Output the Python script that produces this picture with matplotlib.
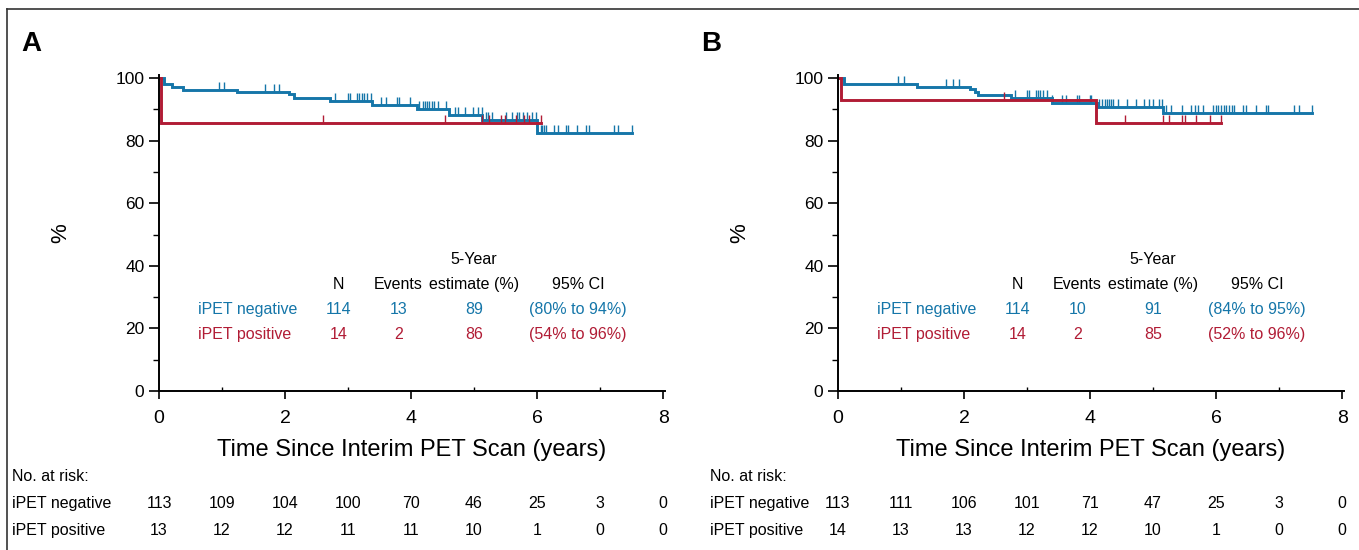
import matplotlib
matplotlib.use("Agg")
import matplotlib.pyplot as plt
from matplotlib.lines import Line2D
from matplotlib.path import Path
import numpy as np

BLUE = "#1576a9"
RED = "#b11c35"
plt.rcParams["font.family"] = ["Liberation Sans", "DejaVu Sans"]

# ---- panel A data ----
a_neg_t = [0, 0.08, 0.21, 0.38, 1.24, 2.07, 2.14, 2.72, 3.38, 4.09, 4.60, 5.13, 6.00, 7.50]
a_neg_s = [100, 98.1, 97.1, 96.2, 95.4, 94.8, 93.5, 92.6, 91.4, 90.1, 88.2, 86.6, 82.5, 82.5]
a_neg_cens = [0.95, 1.03, 1.69, 1.82, 1.90, 2.80, 3.00, 3.03, 3.14, 3.18, 3.22, 3.26, 3.30, 3.37,
              3.52, 3.61, 3.77, 3.81, 3.98, 4.13, 4.19, 4.22, 4.25, 4.29, 4.33, 4.37, 4.43, 4.56,
              4.69, 4.75, 4.85, 4.99, 5.07, 5.12, 5.19, 5.22, 5.29, 5.51, 5.60, 5.68, 5.72, 5.78,
              5.84, 5.92, 5.99, 6.06, 6.08, 6.11, 6.14, 6.27, 6.33, 6.46, 6.49, 6.64, 6.78, 6.82,
              7.22, 7.28, 7.50]
a_pos_t = [0, 0.03, 6.06]
a_pos_s = [100, 85.7, 85.7]
a_pos_cens = [2.61, 4.54, 5.13, 5.24, 5.43, 5.49, 5.66, 5.79, 5.88, 6.06]

# ---- panel B data ----
b_neg_t = [0, 0.10, 1.26, 2.09, 2.17, 2.22, 2.74, 3.40, 4.11, 5.16, 7.52]
b_neg_s = [100, 98.1, 97.2, 96.4, 95.6, 94.6, 93.5, 92.2, 90.8, 88.9, 88.9]
b_neg_cens = [0.96, 1.04, 1.71, 1.83, 1.92, 2.81, 3.00, 3.03, 3.14, 3.18, 3.21, 3.25, 3.31, 3.40,
              3.55, 3.62, 3.79, 3.83, 4.00, 4.02, 4.15, 4.19, 4.23, 4.27, 4.30, 4.33, 4.36, 4.44,
              4.58, 4.73, 4.85, 4.93, 5.00, 5.09, 5.14, 5.21, 5.29, 5.46, 5.61, 5.67, 5.72, 5.80,
              5.95, 6.00, 6.03, 6.08, 6.12, 6.16, 6.20, 6.25, 6.29, 6.42, 6.47, 6.64, 6.79, 6.83,
              7.24, 7.32, 7.52]
b_pos_t = [0, 0.04, 4.10, 6.08]
b_pos_s = [100, 92.9, 85.7, 85.7]
b_pos_cens = [2.63, 4.55, 5.16, 5.26, 5.46, 5.51, 5.68, 5.91, 6.08]

# summary tables
groups = ["iPET negative", "iPET positive"]
a_summary = [["114", "13", "89", "(80% to 94%)"], ["14", "2", "86", "(54% to 96%)"]]
b_summary = [["114", "10", "91", "(84% to 95%)"], ["14", "2", "85", "(52% to 96%)"]]

# numbers at risk at years 0..8
risk_years = [0, 1, 2, 3, 4, 5, 6, 7, 8]
a_risk = [[113, 109, 104, 100, 70, 46, 25, 3, 0], [13, 12, 12, 11, 11, 10, 1, 0, 0]]
b_risk = [[113, 111, 106, 101, 71, 47, 25, 3, 0], [14, 13, 13, 12, 12, 10, 1, 0, 0]]

# censor mark: short tick pointing up from the curve
up_tick = Path([(0, 0), (0, 1)], [Path.MOVETO, Path.LINETO])

fig = plt.figure(figsize=(13.59, 5.5), dpi=100)

# outer frame (top and left edge)
fig.add_artist(Line2D([7 / 1359, 1], [1 - 9 / 550, 1 - 9 / 550], color="#333333", lw=1.2))
fig.add_artist(Line2D([7 / 1359, 7 / 1359], [0, 1 - 9 / 550], color="#333333", lw=1.2))


def surv_at(times, t_steps, s_steps):
    idx = np.searchsorted(t_steps, times, side="right") - 1
    return np.array(s_steps)[idx]


def draw_panel(left, letter, neg, pos, summary, risk, label_x):
    ax = fig.add_axes([left, 0.289, 0.3723, 0.569 * 101 / 100])
    for (t, s, c), col in zip([neg, pos], [BLUE, RED]):
        ax.step(t, s, where="post", color=col, lw=2.1, solid_joinstyle="miter")
        ax.plot(c, surv_at(c, t, s), ls="none", marker=up_tick, ms=12, mew=1.0, color=col)
    ax.set_xlim(0, 8.03)
    ax.set_ylim(0, 101)
    ax.spines["top"].set_visible(False)
    ax.spines["right"].set_visible(False)
    ax.spines["left"].set_bounds(0, 101)
    ax.set_yticks([0, 20, 40, 60, 80, 100])
    ax.set_yticks([10, 30, 50, 70, 90], minor=True)
    ax.set_xticks([0, 2, 4, 6, 8])
    ax.set_xticks([1, 3, 5, 7], minor=True)
    ax.tick_params(axis="y", which="major", length=7, width=1.2, labelsize=12.5, direction="out")
    ax.tick_params(axis="y", which="minor", length=4, width=1.0, direction="out")
    ax.tick_params(axis="x", which="major", length=6, width=1.2, labelsize=14, direction="out", pad=8)
    ax.tick_params(axis="x", which="minor", length=3, width=1.0, direction="in")
    for sp in ("left", "bottom"):
        ax.spines[sp].set_linewidth(1.4)
    ax.set_ylabel("%", fontsize=16, labelpad=32)
    ax.set_xlabel("Time Since Interim PET Scan (years)", fontsize=17, labelpad=8)

    # summary table inside the plot
    cols_x = [2.85, 3.8, 5.0, 6.65]
    fs = 11.5
    ax.text(5.0, 42, "5-Year", ha="center", va="center", fontsize=fs)
    for x, h in zip(cols_x, ["N", "Events", "estimate (%)", "95% CI"]):
        ax.text(x, 34, h, ha="center", va="center", fontsize=fs)
    for i, (g, row, col) in enumerate(zip(groups, summary, [BLUE, RED])):
        y = 26 - 8 * i
        ax.text(0.62, y, g, ha="left", va="center", fontsize=fs, color=col)
        for x, v in zip(cols_x, row):
            ax.text(x, y, v, ha="center", va="center", fontsize=fs, color=col)

    # risk table below
    trans = ax.get_xaxis_transform()
    ax.text(label_x, -0.269, "No. at risk:", transform=trans,
            ha="left", va="center", fontsize=11.5, clip_on=False)
    for i, (g, row) in enumerate(zip(groups, risk)):
        y = -0.355 - 0.0855 * i
        ax.text(label_x, y, g, transform=trans, ha="left", va="center",
                fontsize=11.5, clip_on=False)
        for x, v in zip(risk_years, row):
            ax.text(x, y, str(v), transform=trans, ha="center", va="center",
                    fontsize=11.5, clip_on=False)

    fig.text(left - 0.101, 0.92, letter, fontsize=20, fontweight="bold", ha="left", va="center")
    return ax


draw_panel(159 / 1359, "A", (a_neg_t, a_neg_s, a_neg_cens), (a_pos_t, a_pos_s, a_pos_cens),
           a_summary, a_risk, -2.33)
draw_panel(838 / 1359, "B", (b_neg_t, b_neg_s, b_neg_cens), (b_pos_t, b_pos_s, b_pos_cens),
           b_summary, b_risk, -2.03)

fig.savefig("out.png", dpi=100)
